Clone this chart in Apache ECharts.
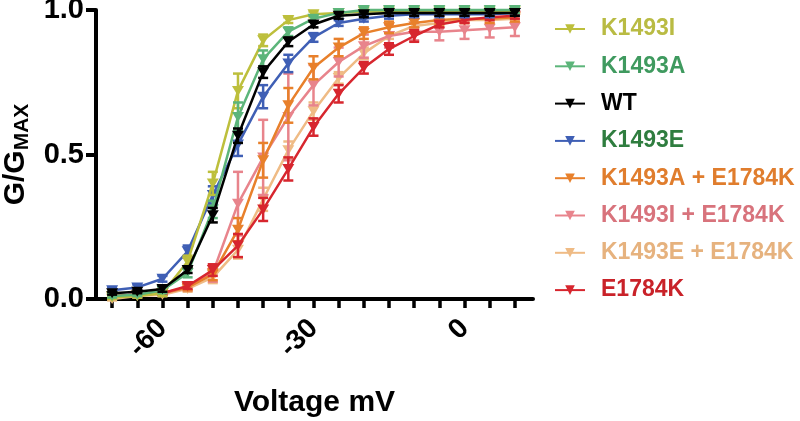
<!DOCTYPE html>
<html>
<head>
<meta charset="utf-8">
<script src="https://cdn.jsdelivr.net/npm/echarts@6/dist/echarts.min.js"></script>
<style>
html,body{margin:0;padding:0;background:#fff;}
#chart{width:800px;height:421px;}
</style>
</head>
<body>
<div id="chart"></div>
<script>
// ---- data ----
const voltages = [-70,-65,-60,-55,-50,-45,-40,-35,-30,-25,-20,-15,-10,-5,0,5,10];
const xTickValues = [-70,-65,-60,-55,-50,-45,-40,-35,-30,-25,-20,-15,-10,-5,0,5,10];
const xLabelValues = [-60,-30,0];
const yTickValues = [0,0.5,1];

const seriesNames = ['K1493I','K1493A','WT','K1493E','K1493A + E1784K','K1493I + E1784K','K1493E + E1784K','E1784K'];

const k1493I   = [0.005,0.01,0.02,0.13,0.40,0.72,0.895,0.965,0.985,0.99,0.995,0.995,0.995,0.995,0.995,0.995,0.995];
const k1493I_e = [0.005,0.005,0.01,0.02,0.04,0.06,0.02,0.01,0.01,0.005,0.005,0.005,0.005,0.005,0.005,0.005,0.005];

const k1493A   = [0.01,0.015,0.03,0.09,0.31,0.63,0.83,0.925,0.97,0.99,1.0,1.0,1.0,1.0,1.0,1.0,1.0];
const k1493A_e = [0.005,0.005,0.01,0.015,0.03,0.05,0.03,0.015,0.01,0.01,0.01,0.01,0.01,0.01,0.01,0.01,0.01];

const wt       = [0.02,0.025,0.035,0.10,0.29,0.565,0.785,0.89,0.95,0.98,0.985,0.99,0.99,0.99,0.99,0.99,0.99];
const wt_e     = [0.005,0.005,0.01,0.01,0.025,0.025,0.02,0.015,0.01,0.01,0.01,0.01,0.01,0.01,0.01,0.01,0.01];

const k1493E   = [0.03,0.04,0.07,0.165,0.36,0.535,0.70,0.815,0.905,0.955,0.97,0.98,0.985,0.985,0.985,0.985,0.99];
const k1493E_e = [0.01,0.01,0.01,0.02,0.03,0.04,0.04,0.03,0.015,0.01,0.01,0.01,0.01,0.01,0.01,0.01,0.01];

const k1493AE   = [0.01,0.015,0.02,0.04,0.085,0.24,0.48,0.67,0.80,0.87,0.92,0.94,0.955,0.965,0.97,0.97,0.975];
const k1493AE_e = [0.005,0.005,0.005,0.01,0.02,0.04,0.06,0.06,0.04,0.03,0.02,0.02,0.015,0.015,0.015,0.015,0.015];

const k1493IE   = [0.01,0.015,0.02,0.04,0.09,0.33,0.49,0.63,0.74,0.82,0.875,0.91,0.925,0.925,0.93,0.935,0.94];
const k1493IE_e = [0.005,0.005,0.005,0.01,0.03,0.11,0.13,0.15,0.07,0.05,0.04,0.04,0.03,0.03,0.03,0.03,0.03];

const k1493EE   = [0.0,0.01,0.015,0.035,0.075,0.17,0.345,0.515,0.65,0.765,0.85,0.91,0.945,0.955,0.965,0.965,0.97];
const k1493EE_e = [0.005,0.005,0.005,0.01,0.02,0.03,0.04,0.03,0.03,0.02,0.02,0.01,0.01,0.01,0.01,0.01,0.01];

const e1784K   = [0.01,0.015,0.02,0.045,0.10,0.185,0.31,0.45,0.595,0.71,0.80,0.865,0.91,0.95,0.965,0.975,0.98];
const e1784K_e = [0.005,0.005,0.005,0.01,0.02,0.04,0.04,0.04,0.03,0.03,0.02,0.02,0.02,0.01,0.01,0.01,0.01];

// ---- styling ----
const lineColors = {
  'K1493I':'#bdbf3c','K1493A':'#5cb57a','WT':'#000000','K1493E':'#3f5fb5',
  'K1493A + E1784K':'#e8802b','K1493I + E1784K':'#e8848c','K1493E + E1784K':'#efbb85','E1784K':'#d7262e'
};
const textColors = {
  'K1493I':'#b9bb43','K1493A':'#3f9a5f','WT':'#000000','K1493E':'#2f7d3f',
  'K1493A + E1784K':'#e07d2d','K1493I + E1784K':'#d8737c','K1493E + E1784K':'#e6b27e','E1784K':'#c92229'
};
const dataMap = {
  'K1493I':[k1493I,k1493I_e],'K1493A':[k1493A,k1493A_e],'WT':[wt,wt_e],'K1493E':[k1493E,k1493E_e],
  'K1493A + E1784K':[k1493AE,k1493AE_e],'K1493I + E1784K':[k1493IE,k1493IE_e],
  'K1493E + E1784K':[k1493EE,k1493EE_e],'E1784K':[e1784K,e1784K_e]
};
const drawOrder = ['K1493E + E1784K','K1493I + E1784K','K1493A + E1784K','E1784K','K1493E','K1493I','K1493A','WT'];

const FONT = '"Liberation Sans", Arial, Helvetica, sans-serif';
const series = [];
drawOrder.forEach((name, idx) => {
  const vals = dataMap[name][0], errs = dataMap[name][1];
  const col = lineColors[name];
  series.push({
    type:'custom', name: name + ' (SEM)', z: 2 + idx*2,
    clip:false, color: col,
    data: voltages.map((v,i)=>[v, vals[i]-errs[i], vals[i]+errs[i]]),
    encode:{x:0, y:[1,2]},
    renderItem: function(params, api){
      const x = api.value(0);
      const lo = api.coord([x, api.value(1)]);
      const hi = api.coord([x, api.value(2)]);
      const hw = 5;
      const st = {stroke: col, lineWidth: 2.5};
      return {type:'group', silent:true, children:[
        {type:'line', shape:{x1:lo[0],y1:lo[1],x2:hi[0],y2:hi[1]}, style:st},
        {type:'line', shape:{x1:lo[0]-hw,y1:lo[1],x2:lo[0]+hw,y2:lo[1]}, style:st},
        {type:'line', shape:{x1:hi[0]-hw,y1:hi[1],x2:hi[0]+hw,y2:hi[1]}, style:st}
      ]};
    }
  });
  series.push({
    type:'line', name: name, z: 3 + idx*2,
    clip:false, color: col,
    data: voltages.map((v,i)=>[v, vals[i]]),
    symbol:'triangle', symbolRotate:180, symbolSize:[12,10], showSymbol:true,
    lineStyle:{color:col, width:2.5},
    itemStyle:{color:col},
    emphasis:{disabled:true}
  });
});

const chart = echarts.init(document.getElementById('chart'), null, {renderer:'canvas'});
chart.setOption({
  animation:false,
  grid:{left:96, right:267, top:10, bottom:122, containLabel:false, outerBoundsMode:'none'},
  legend:{
    orient:'vertical', left:549, top:12, itemGap:13.3, itemWidth:30, itemHeight:12,
    selectedMode:false,
    data: seriesNames.map(n=>({name:n, textStyle:{color:textColors[n]}})),
    textStyle:{fontFamily:FONT, fontWeight:'bold', fontSize:23, lineHeight:24, padding:[0,0,0,11]}
  },
  xAxis:{
    type:'value', min:-73.2, max:13.6,
    name:'Voltage mV', nameLocation:'middle', nameGap:89,
    nameTextStyle:{fontFamily:FONT, fontWeight:'bold', fontSize:30, color:'#000'},
    axisLine:{show:true, onZero:false, lineStyle:{color:'#000', width:4}},
    axisTick:{show:true, length:9, lineStyle:{color:'#000', width:3.5}, customValues:xTickValues},
    axisLabel:{show:true, rotate:45, margin:25, customValues:xLabelValues,
      fontFamily:FONT, fontWeight:'bold', fontSize:28, color:'#000'},
    splitLine:{show:false}
  },
  yAxis:{
    type:'value', min:0, max:1, interval:0.5,
    name:'{a|G/G}{b|MAX}', nameLocation:'middle', nameGap:60, nameRotate:90,
    nameTextStyle:{fontFamily:FONT, fontWeight:'bold', color:'#000',
      rich:{a:{fontFamily:FONT, fontWeight:'bold', fontSize:30, color:'#000', lineHeight:34},
            b:{fontFamily:FONT, fontWeight:'bold', fontSize:21, color:'#000', lineHeight:34, padding:[14,0,0,0]}}},
    axisLine:{show:true, onZero:false, lineStyle:{color:'#000', width:4}},
    axisTick:{show:true, length:10, lineStyle:{color:'#000', width:4}},
    axisLabel:{show:true, margin:12,
      formatter:(v)=>v.toFixed(1),
      fontFamily:FONT, fontWeight:'bold', fontSize:29, color:'#000'},
    splitLine:{show:false}
  },
  series: series
});
</script>
</body>
</html>
